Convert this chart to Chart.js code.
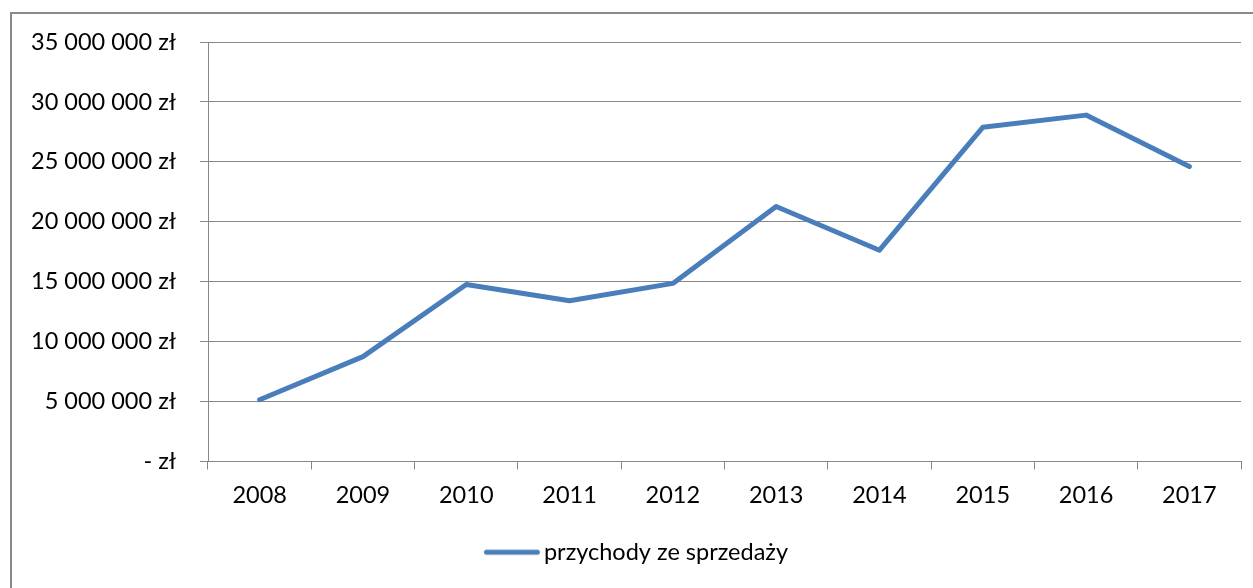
<!DOCTYPE html>
<html>
<head>
<meta charset="utf-8">
<script src="https://cdn.jsdelivr.net/npm/chart.js@4/dist/chart.umd.min.js"></script>
<style>
  html, body { margin: 0; padding: 0; background: #fff; overflow: hidden; }
  #wrap { position: relative; width: 1253px; height: 588px; }
  #frame { position: absolute; left: 10px; top: 12px; width: 1400px; height: 800px; border: 2px solid #898989; box-sizing: border-box; }
  canvas { position: absolute; left: 0; top: 0; }
</style>
</head>
<body>
<div id="wrap">
  <div id="frame"></div>
  <canvas id="c" width="1253" height="588"></canvas>
</div>
<script>
const categories = ['2008', '2009', '2010', '2011', '2012', '2013', '2014', '2015', '2016', '2017'];
const seriesName = 'przychody ze sprzedaży';
const revenue = [5150000, 8750000, 14770000, 13410000, 14860000, 21280000, 17630000, 27880000, 28900000, 24610000];
const yTickValues = [0, 5000000, 10000000, 15000000, 20000000, 25000000, 30000000, 35000000];
const yTickLabels = ['- zł', '5 000 000 zł', '10 000 000 zł', '15 000 000 zł', '20 000 000 zł', '25 000 000 zł', '30 000 000 zł', '35 000 000 zł'];

const lineColor = '#4a7ebb';
const gridColor = '#878787';
const font = { family: 'Lato', size: 23.5 };

// legend marker: a short thick line drawn on a small canvas (style only)
const marker = document.createElement('canvas');
marker.width = 67; marker.height = 10;
(function () {
  const m = marker.getContext('2d');
  m.strokeStyle = lineColor; m.lineWidth = 5; m.lineCap = 'round';
  m.beginPath(); m.moveTo(13.4, 5); m.lineTo(64.4, 5); m.stroke();
})();

new Chart(document.getElementById('c'), {
  type: 'line',
  data: {
    labels: categories,
    datasets: [{
      label: seriesName,
      data: revenue,
      borderColor: lineColor,
      backgroundColor: lineColor,
      borderWidth: 5,
      pointRadius: 0,
      tension: 0,
      borderCapStyle: 'round',
      borderJoinStyle: 'round'
    }]
  },
  options: {
    responsive: false,
    animation: false,
    devicePixelRatio: 1,
    layout: { padding: { top: 42, left: 28, right: 12, bottom: 14 } },
    plugins: {
      tooltip: { enabled: false },
      legend: {
        position: 'bottom',
        labels: {
          color: '#000',
          font: font,
          usePointStyle: true,
          pointStyleWidth: 51.25,
          padding: 10,
          generateLabels: (chart) => chart.data.datasets.map((ds, i) => ({
            text: ds.label,
            datasetIndex: i,
            pointStyle: marker,
            strokeStyle: ds.borderColor,
            fillStyle: ds.borderColor,
            lineWidth: 5,
            fontColor: '#000'
          }))
        }
      }
    },
    scales: {
      x: {
        offset: true,
        grid: {
          offset: true,
          drawOnChartArea: false,
          drawTicks: true,
          tickLength: 8,
          color: gridColor,
          lineWidth: 1
        },
        border: { display: true, color: gridColor, width: 1 },
        ticks: { color: '#000', font: font, padding: 12, maxRotation: 0 },
        afterFit: (s) => { s.height = 69; }
      },
      y: {
        min: 0,
        max: 35000000,
        afterBuildTicks: (s) => { s.ticks = yTickValues.map(v => ({ value: v })); },
        grid: {
          color: gridColor,
          lineWidth: 1,
          drawTicks: true,
          tickLength: 8
        },
        border: { display: true, color: gridColor, width: 1 },
        ticks: {
          color: '#000',
          font: font,
          padding: 24,
          callback: (v) => { const i = yTickValues.indexOf(v); return i >= 0 ? yTickLabels[i] : ''; }
        },
        afterFit: (s) => { s.width = 180; }
      }
    }
  }
});
</script>
</body>
</html>
